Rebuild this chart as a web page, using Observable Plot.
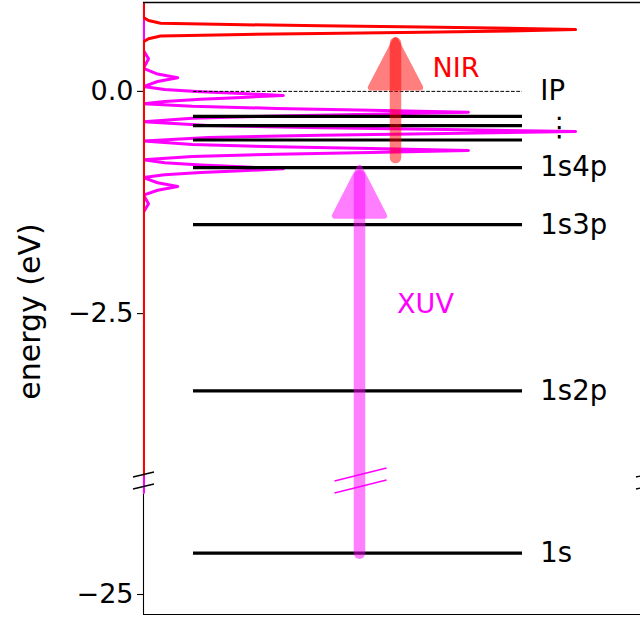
<!DOCTYPE html>
<html><head><meta charset="utf-8">
<script src="https://cdn.jsdelivr.net/npm/d3@7"></script>
<script src="https://cdn.jsdelivr.net/npm/@observablehq/plot@0.6"></script>
<style>html,body{margin:0;padding:0;background:#fff;} #chart{width:640px;height:619px;}</style>
</head><body><div id="chart"></div>
<script>
// ---------- data ----------
const levelNames    = ["1s", "1s2p", "1s3p", "1s4p", "1s5p", "1s6p", "1s7p"];
const levelEnergies = [-24.587, -3.37, -1.50, -0.857, -0.547, -0.385, -0.281];
const levelLabels   = ["1s", "1s2p", "1s3p", "1s4p", "", "", ""];
const ipEnergy = 0.0;
const ipLabel = "IP";
const dotsLabel = "⋮";
const dotsEnergy = -0.403;

const yTicks = [0, -2.5, -25];
const yTickLabels = ["0.0", "−2.5", "−25"];
const yLabel = "energy (eV)";

// XUV spectrum (energy in eV, intensity in arb. units)
const xuvEnergy = [1.0, 0.46, 0.367, 0.26, 0.195, 0.153, 0.111, 0.054, 0.021, -0.004, -0.024, -0.046, -0.068, -0.088, -0.113, -0.14, -0.167, -0.192, -0.212, -0.234, -0.256, -0.276, -0.301, -0.342, -0.384, -0.409, -0.429, -0.451, -0.473, -0.493, -0.518, -0.558, -0.598, -0.623, -0.643, -0.665, -0.687, -0.707, -0.732, -0.768, -0.804, -0.829, -0.849, -0.871, -0.893, -0.913, -0.938, -0.97, -1.028, -1.070, -1.112, -1.167, -1.264, -1.36, -23.98];
const xuvIntensity = [0, 0, 0.01, 0, 0.028, 0.068, 0.028, 0, 0.042, 0.114, 0.195, 0.278, 0.195, 0.114, 0.042, 0, 0.097, 0.265, 0.452, 0.646, 0.452, 0.265, 0.097, 0, 0.129, 0.352, 0.601, 0.859, 0.601, 0.352, 0.129, 0, 0.097, 0.265, 0.452, 0.646, 0.452, 0.265, 0.097, 0, 0.042, 0.114, 0.195, 0.278, 0.195, 0.114, 0.042, 0, 0.028, 0.068, 0.028, 0, 0.01, 0, 0];

// NIR spectrum
const nirEnergy = [1.0, 0.83, 0.797, 0.767, 0.75, 0.738, 0.725, 0.708, 0.695, 0.682, 0.665, 0.652, 0.64, 0.623, 0.593, 0.56, -4.31];
const nirIntensity = [0, 0, 0.01, 0.034, 0.2, 0.352, 0.553, 0.751, 0.859, 0.751, 0.553, 0.352, 0.2, 0.034, 0.01, 0, 0];

// transitions (arrows)
const arrowNames   = ["XUV", "NIR"];
const arrowFrom    = [-24.587, -0.745];
const arrowTo      = [-0.95, 0.544];
const arrowHeadBase = [-1.40, 0.044];
const arrowHeadTip  = [-0.86, 0.576];
const arrowLabelEnergy = [-2.40, 0.258];

// ---------- layout / style ----------
const Y_DOMAIN = [-25.2, -23.92, -4.31, 1.0];
const Y_RANGE  = [614, 486, 474, 2];
const X_DOMAIN = [0, 1];
const X_RANGE  = [143, 646];
const LEVEL_X1 = 0.0994, LEVEL_X2 = 0.7535;
const LABEL_X = 0.789, DOTS_X = 0.8264;
const ARROW_X = [0.4294, 0.501];
const ARROW_LABEL_X = [0.5606, 0.6213];
const HEAD_HALF = 0.049;
const COLORS = ["#ff00ff", "#ff0000"];
const FONT = "DejaVu Sans";

const xs = d3.scaleLinear(X_DOMAIN, X_RANGE);
const ys = d3.scaleLinear(Y_DOMAIN, Y_RANGE);

const xuv = xuvEnergy.map((E, i) => ({E, I: xuvIntensity[i]}));
const nir = nirEnergy.map((E, i) => ({E, I: nirIntensity[i]}));
const levels = levelEnergies.map((E, i) => ({E, name: levelNames[i], label: levelLabels[i]}));

// axis-break decorations (pixel offsets around the panel boundaries)
function breakMark(xPx, yPx, halfW, rise) {
  return {x1: xs.invert(xPx - halfW), y1: ys.invert(yPx + rise / 2),
          x2: xs.invert(xPx + halfW), y2: ys.invert(yPx - rise / 2)};
}
const boundaries = [ys(Y_DOMAIN[2]), ys(Y_DOMAIN[1])];
const spineBreaks = [], arrowBreaks = [];
for (const b of boundaries) {
  spineBreaks.push(breakMark(xs(0), b, 10.5, 5));
  spineBreaks.push(breakMark(xs(1), b, 10.5, 5));
  arrowBreaks.push(breakMark(xs(ARROW_X[0]) + 1, b, 26, 13));
}

const marks = [
  Plot.ruleX([0], {stroke: "black", strokeWidth: 1.1}),
  Plot.line(xuv, {x: "I", y: "E", stroke: COLORS[0], strokeWidth: 3, strokeLinejoin: "round", clip: true}),
  Plot.line(nir, {x: "I", y: "E", stroke: COLORS[1], strokeWidth: 3, strokeLinejoin: "round", clip: true}),
  Plot.ruleY(levels, {y: "E", x1: LEVEL_X1, x2: LEVEL_X2, stroke: "black", strokeWidth: 3.2}),
  Plot.ruleY([ipEnergy], {y: d => d, x1: LEVEL_X1, x2: LEVEL_X2, stroke: "black", strokeWidth: 1, strokeDasharray: "3.7,1.6"})
];

arrowNames.forEach((name, i) => {
  const head = [
    [ARROW_X[i] - HEAD_HALF, arrowHeadBase[i]],
    [ARROW_X[i] + HEAD_HALF, arrowHeadBase[i]],
    [ARROW_X[i], arrowHeadTip[i]]
  ];
  marks.push(Plot.line(head, {x: d => d[0], y: d => d[1], curve: "linear-closed",
    fill: COLORS[i], stroke: COLORS[i], strokeWidth: 6, strokeLinejoin: "round", opacity: 0.5}));
  marks.push(Plot.link([{x: ARROW_X[i], y1: arrowFrom[i], y2: arrowTo[i]}],
    {x1: "x", x2: "x", y1: "y1", y2: "y2", stroke: COLORS[i], strokeWidth: 11.5, strokeLinecap: "round", strokeOpacity: 0.5}));
  marks.push(Plot.text([name], {x: ARROW_LABEL_X[i], y: arrowLabelEnergy[i], text: d => d, fill: COLORS[i], fontSize: 27, textAnchor: "middle"}));
});

marks.push(
  Plot.link(arrowBreaks, {x1: "x1", y1: "y1", x2: "x2", y2: "y2", stroke: COLORS[0], strokeWidth: 1.6}),
  Plot.link(spineBreaks, {x1: "x1", y1: "y1", x2: "x2", y2: "y2", stroke: "black", strokeWidth: 1.3}),
  Plot.text(levels.filter(d => d.label), {x: LABEL_X, y: "E", text: "label", textAnchor: "start", fontSize: 27.5, fill: "black"}),
  Plot.text([ipLabel], {x: LABEL_X, y: ipEnergy, text: d => d, textAnchor: "start", fontSize: 27.5, fill: "black"}),
  Plot.text([dotsLabel], {x: DOTS_X, y: dotsEnergy, text: d => d, textAnchor: "middle", fontSize: 27, fill: "black"}),
  Plot.ruleY([Y_DOMAIN[3]], {stroke: "black", strokeWidth: 1.3}),
  Plot.ruleY([Y_DOMAIN[0]], {stroke: "black", strokeWidth: 1.1}),
  Plot.axisY({ticks: yTicks, tickFormat: d => yTickLabels[yTicks.indexOf(d)], tickSize: 6, tickPadding: 4,
    fontSize: 27, label: null, stroke: "black", strokeWidth: 1.1}),
  Plot.text([yLabel], {frameAnchor: "left", dx: -113, dy: 3, rotate: -90, fontSize: 30, textAnchor: "middle", fill: "black"})
);

const chart = Plot.plot({
  width: 640, height: 619,
  marginLeft: 143, marginRight: 0, marginTop: 2, marginBottom: 5,
  style: {fontFamily: FONT, fontSize: "27px", background: "white", color: "black"},
  x: {domain: X_DOMAIN, range: X_RANGE, axis: null},
  y: {type: "linear", domain: Y_DOMAIN, range: Y_RANGE},
  marks
});
document.getElementById("chart").appendChild(chart);
</script></body></html>
